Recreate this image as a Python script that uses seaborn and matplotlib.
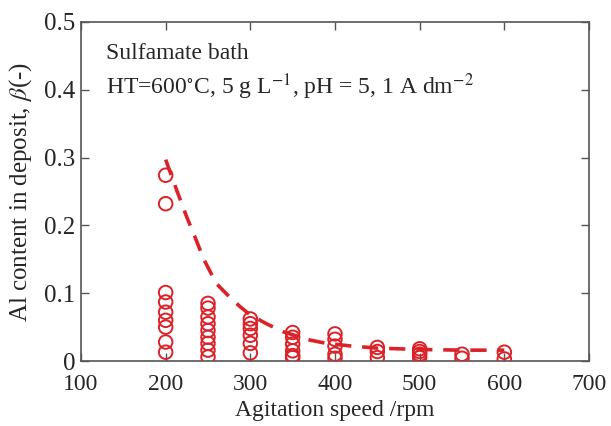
import numpy as np
import pandas as pd
import matplotlib
matplotlib.use("Agg")
import matplotlib.pyplot as plt
import seaborn as sns

# Data
speed_200 = [0.274, 0.232, 0.101, 0.087, 0.072, 0.060, 0.050, 0.028, 0.013]
speed_250 = [0.085, 0.078, 0.065, 0.055, 0.045, 0.035, 0.026, 0.016, 0.006]
speed_300 = [0.062, 0.055, 0.048, 0.038, 0.026, 0.012]
speed_350 = [0.042, 0.035, 0.025, 0.015, 0.008, 0.005]
speed_400 = [0.040, 0.032, 0.022, 0.010, 0.004]
speed_450 = [0.020, 0.014, 0.005]
speed_500 = [0.018, 0.014, 0.010, 0.005]
speed_550 = [0.010, 0.004]
speed_600 = [0.013, 0.003]
speeds = [200, 250, 300, 350, 400, 450, 500, 550, 600]

fit_x = [200, 213, 225, 233, 245, 260, 275, 288, 300, 319, 339, 370, 390, 420, 450, 500, 550, 600]
fit_y = [0.297, 0.252, 0.212, 0.188, 0.150, 0.114, 0.095, 0.080, 0.068, 0.055, 0.043,
         0.031, 0.026, 0.022, 0.019, 0.017, 0.016, 0.016]

x_ticks = [100, 200, 300, 400, 500, 600, 700]
y_ticks = [0, 0.1, 0.2, 0.3, 0.4, 0.5]
y_tick_labels = ["0", "0.1", "0.2", "0.3", "0.4", "0.5"]

groups = [speed_200, speed_250, speed_300, speed_350, speed_400,
          speed_450, speed_500, speed_550, speed_600]
rows = []
for s, vals in zip(speeds, groups):
    for v in vals:
        rows.append({"speed": s, "beta": v})
df = pd.DataFrame(rows)
fit_df = pd.DataFrame({"speed": fit_x, "beta": fit_y})

sns.set_style("white")
plt.rcParams["font.family"] = ["Liberation Serif", "DejaVu Serif"]
plt.rcParams["mathtext.fontset"] = "stix"

red = "#db2229"
spine_c = "#555555"

fig = plt.figure(figsize=(6.11, 4.26), dpi=100)
ax = fig.add_axes([81 / 611, (426 - 361) / 426, (589 - 81) / 611, (361 - 22) / 426])

sns.lineplot(data=fit_df, x="speed", y="beta", ax=ax, color=red, linewidth=2.6,
             linestyle=(0, (4.5, 3.0)), zorder=2)
sns.scatterplot(data=df, x="speed", y="beta", ax=ax, marker="o", s=95,
                facecolor="none", edgecolor=red, linewidth=1.4, zorder=3)

ax.set_xlim(100, 700)
ax.set_ylim(0, 0.5)
ax.set_xticks(x_ticks)
ax.set_yticks(y_ticks)
ax.set_yticklabels(y_tick_labels)
ax.tick_params(direction="in", length=6, width=1, color=spine_c, top=True, right=True,
               bottom=True, left=True)
ax.tick_params(axis="x", labelsize=17, pad=9)
ax.tick_params(axis="y", labelsize=18, pad=4)
for sp in ax.spines.values():
    sp.set_color(spine_c)
    sp.set_linewidth(1.2)

ax.set_xlabel("Agitation speed /rpm", fontsize=17, labelpad=4)
ax.set_ylabel(r"Al content in deposit, $\beta$(-)", fontsize=18, labelpad=7)

ax.text(0.05, 0.908, "Sulfamate bath", transform=ax.transAxes, fontsize=17,
        va="center", ha="left")
ax.text(0.05, 0.808, r"HT=600$^{\circ}$C, 5 g L$^{-1}$, pH = 5, 1 A dm$^{-2}$",
        transform=ax.transAxes, fontsize=17, va="center", ha="left")

fig.savefig("out.png", dpi=100)
